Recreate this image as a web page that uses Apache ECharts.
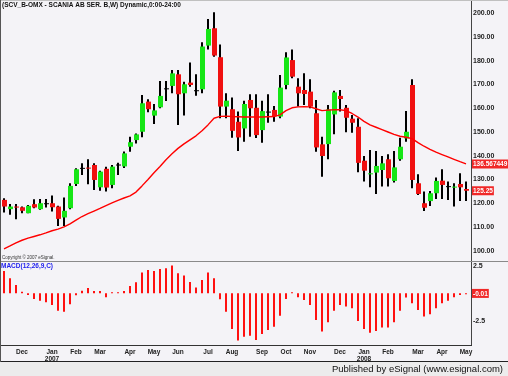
<!DOCTYPE html>
<html><head><meta charset="utf-8">
<script src="https://cdn.jsdelivr.net/npm/echarts@6/dist/echarts.min.js"></script>
<style>html,body{margin:0;padding:0;background:#F4F3F7}#c{width:508px;height:376px}</style>
</head><body><div id="c"></div>
<script>
const weeks = ['2006-11-13','2006-11-20','2006-11-27','2006-12-04','2006-12-11','2006-12-18','2006-12-25',
'2007-01-01','2007-01-08','2007-01-15','2007-01-22','2007-01-29','2007-02-05','2007-02-12','2007-02-19','2007-02-26',
'2007-03-05','2007-03-12','2007-03-19','2007-03-26','2007-04-02','2007-04-09','2007-04-16','2007-04-23','2007-04-30',
'2007-05-07','2007-05-14','2007-05-21','2007-05-28','2007-06-04','2007-06-11','2007-06-18','2007-06-25','2007-07-02',
'2007-07-09','2007-07-16','2007-07-23','2007-07-30','2007-08-06','2007-08-13','2007-08-20','2007-08-27','2007-09-03',
'2007-09-10','2007-09-17','2007-09-24','2007-10-01','2007-10-08','2007-10-15','2007-10-22','2007-10-29','2007-11-05',
'2007-11-12','2007-11-19','2007-11-26','2007-12-03','2007-12-10','2007-12-17','2007-12-24','2007-12-31','2008-01-07',
'2008-01-14','2008-01-21','2008-01-28','2008-02-04','2008-02-11','2008-02-18','2008-02-25','2008-03-03','2008-03-10',
'2008-03-17','2008-03-24','2008-03-31','2008-04-07','2008-04-14','2008-04-21','2008-04-28','2008-05-05'];

const opens  = [121.4,117.5,118.6,118.3,115.8,119.6,117.5,120.0,120.0,118.6,114.0,117.9,128.1,134.9,135.0,136.1,126.7,134.5,127.7,136.3,
135.5,143.8,146.6,150.1,162.8,156.9,160.4,168.4,169.4,174.3,166.3,170.8,167.6,168.0,186.4,193.7,181.5,160.7,159.6,154.3,
151.5,163.5,160.2,150.8,158.6,159.3,156.5,169.8,180.3,169.1,167.7,167.0,157.9,144.8,144.9,157.4,165.2,160.2,155.6,152.2,
137.9,132.4,132.9,134.0,138.5,129.4,138.5,147.3,169.8,128.4,120.0,120.9,124.2,129.5,127.2,126.6,128.1,126.0];
const closes = [118.6,118.6,118.3,116.8,118.9,118.2,120.0,120.0,118.3,113.4,116.8,127.3,134.3,134.9,134.6,129.8,133.3,126.6,135.4,136.3,
141.0,145.7,149.0,162.1,159.6,159.1,165.2,168.4,174.7,165.9,170.1,169.8,167.6,186.0,193.4,182.2,160.7,163.2,150.5,147.7,
161.8,160.0,148.7,158.8,158.6,156.7,168.7,181.4,173.3,166.3,166.0,160.7,143.5,139.9,159.5,166.7,163.9,156.0,153.9,137.0,
133.7,132.6,135.7,136.8,130.5,135.1,143.8,150.1,129.8,123.9,118.1,124.2,129.4,127.7,127.2,127.0,126.7,125.25];
const lows   = [116.1,115.1,113.3,115.8,115.8,117.9,117.2,118.2,116.5,110.4,110.4,117.5,127.3,131.9,128.0,125.6,125.3,124.9,126.3,131.9,
134.8,141.7,145.2,147.8,158.3,153.4,160.0,163.1,166.3,153.0,156.9,169.1,165.3,166.3,184.8,181.7,155.8,155.8,147.6,142.0,
145.9,148.0,147.5,145.5,153.9,154.3,155.8,168.0,172.6,160.7,161.4,160.0,141.7,131.2,138.5,149.0,158.6,149.9,149.7,133.0,
129.1,126.7,123.9,127.0,127.0,128.7,137.9,145.9,126.3,123.5,116.7,118.8,121.8,121.8,121.4,118.6,120.9,120.9];
const highs  = [122.1,119.7,119.7,118.6,119.3,121.7,121.8,121.8,123.2,118.9,122.4,128.4,134.7,136.8,138.5,136.8,133.7,135.4,136.1,137.0,
141.8,148.0,149.4,165.6,163.8,161.8,171.5,171.5,176.1,176.1,171.2,179.3,174.3,187.8,197.6,200.4,186.9,166.3,164.5,158.6,
163.2,165.9,165.9,163.2,165.9,161.0,174.0,183.6,184.8,172.6,174.7,172.2,163.5,148.0,161.4,167.4,167.7,161.4,157.2,155.8,
139.9,142.4,142.0,139.9,140.6,142.0,147.6,158.8,172.2,132.2,124.9,125.2,130.8,134.3,129.1,128.4,132.6,129.1];

const ma = [100.8,102.0,103.3,104.4,105.3,106.0,106.7,107.5,108.4,109.1,110.0,111.3,112.9,114.4,115.6,116.7,117.8,119.0,120.1,121.2,
122.2,123.1,124.7,127.3,130.0,132.8,135.5,138.3,140.8,143.1,145.0,146.7,148.4,150.5,153.0,155.8,156.6,156.7,156.5,156.4,
156.3,156.3,156.3,156.3,156.4,156.5,157.2,159.0,160.2,160.6,160.7,160.6,159.8,159.0,159.2,159.4,159.4,159.0,157.8,156.3,
154.5,153.0,152.0,151.0,150.0,149.0,148.2,147.8,147.2,145.5,144.0,142.7,141.5,140.5,139.5,138.5,137.5,136.567449];

const macd = [2.03,1.36,0.75,0.15,-0.15,-0.52,-0.67,-0.82,-1.06,-1.58,-1.67,-1.0,-0.18,0.24,0.48,0.21,0.21,-0.36,0.1,0.05,
0.21,0.67,1.0,1.9,2.12,2.03,2.21,2.27,2.52,1.82,1.61,1.03,0.52,1.21,1.88,1.36,-0.55,-1.67,-3.24,-4.3,
-3.94,-3.85,-4.24,-3.7,-3.33,-3.03,-2.03,-0.52,0.1,-0.36,-0.61,-1.06,-2.42,-3.48,-2.64,-1.58,-1.06,-1.21,-1.36,-2.52,
-3.24,-3.58,-3.42,-3.12,-3.12,-2.64,-1.58,-0.39,-0.91,-1.52,-2.12,-1.91,-1.36,-0.91,-0.67,-0.36,-0.15,-0.01];

const monthTickIdx  = [3,8,12,16,21,25,29,34,38,43,47,51,56,60,64,69,73,77];
const monthTickText = ['Dec','Jan\n2007','Feb','Mar','Apr','May','Jun','Jul','Aug','Sep','Oct','Nov','Dec','Jan\n2008','Feb','Mar','Apr','May'];

const titleText = '(SCV_B-OMX - SCANIA AB SER. B,W) Dynamic,0:00-24:00';
const macdTitle = 'MACD(12,26,9,C)';

const GREEN = '#16E616', RED = '#F01010', FONT = 'Liberation Sans';
const ohlc = weeks.map((w, i) => [i, opens[i], closes[i], lows[i], highs[i]]);

const chart = echarts.init(document.getElementById('c'), null, {renderer: 'canvas'});
const axisLabelStyle = {fontFamily: FONT, fontSize: 7, fontWeight: 'bold', color: '#222'};

chart.setOption({
  animation: false,
  backgroundColor: '#F4F3F7',
  grid: [
    {left: 1, width: 468, top: 13.3, height: 237.4},
    {left: 1, width: 468, top: 238.3, height: 110}
  ],
  xAxis: [
    {type: 'category', gridIndex: 0, data: weeks, axisLine: {show: false}, axisTick: {show: false}, axisLabel: {show: false}, splitLine: {show: false}},
    {type: 'category', gridIndex: 1, data: weeks, offset: -3.3, axisLine: {show: false}, axisTick: {show: false}, splitLine: {show: false},
     axisLabel: {show: true, interval: (idx) => monthTickIdx.includes(idx), margin: 3, lineHeight: 7.5,
       formatter: (v, idx) => { const k = monthTickIdx.indexOf(idx); return k >= 0 ? monthTickText[k] : ''; },
       fontFamily: FONT, fontSize: 6.5, fontWeight: 'bold', color: '#222'}}
  ],
  yAxis: [
    {type: 'value', gridIndex: 0, position: 'right', min: 100, max: 200, interval: 10, axisLine: {show: false}, axisTick: {show: false}, splitLine: {show: false},
     axisLabel: Object.assign({margin: 4, formatter: v => v.toFixed(2)}, axisLabelStyle)},
    {type: 'value', gridIndex: 1, position: 'right', min: -5, max: 5, interval: 2.5, axisLine: {show: false}, axisTick: {show: false}, splitLine: {show: false},
     axisLabel: Object.assign({margin: 4, formatter: v => (Math.abs(v) === 2.5 ? String(v) : '')}, axisLabelStyle)}
  ],
  series: [
    {type: 'custom', xAxisIndex: 0, yAxisIndex: 0, data: ohlc, encode: {x: 0, y: [1, 2, 3, 4]}, clip: false,
     renderItem: (params, api) => {
       const i = api.value(0), o = api.value(1), c = api.value(2), l = api.value(3), h = api.value(4);
       const pO = api.coord([i, o]), pC = api.coord([i, c]), pL = api.coord([i, l]), pH = api.coord([i, h]);
       const x = Math.round(pO[0]);
       const col = o === c ? '#000' : (c > o ? GREEN : RED);
       const top = Math.min(pO[1], pC[1]);
       const bh = Math.max(1, Math.abs(pO[1] - pC[1]));
       return {type: 'group', children: [
         {type: 'rect', shape: {x: x - 1, y: pH[1], width: 2, height: pL[1] - pH[1]}, style: {fill: '#000'}},
         {type: 'rect', shape: {x: x - 2, y: top, width: 5, height: bh}, style: {fill: col}}
       ]};
     }},
    {type: 'line', xAxisIndex: 0, yAxisIndex: 0, data: ma, symbol: 'none', lineStyle: {color: '#FF0000', width: 1.4}, z: 3},
    {type: 'bar', xAxisIndex: 1, yAxisIndex: 1, data: macd, barWidth: 2, barMinHeight: 1, itemStyle: {color: '#FF1010'}}
  ]
});

const yMa = chart.convertToPixel({yAxisIndex: 0}, ma[ma.length - 1]);
const yCl = chart.convertToPixel({yAxisIndex: 0}, closes[closes.length - 1]);
const yMd = chart.convertToPixel({yAxisIndex: 1}, macd[macd.length - 1]);
function tag(y, txt) {
  return {type: 'text', left: 472, top: y - 4.5, z: 20,
    style: {text: txt, fill: '#fff', backgroundColor: '#F02828', padding: [1, 1, 0, 1], fontFamily: FONT, fontSize: 6.5, fontWeight: 'bold', lineHeight: 8}};
}
chart.setOption({graphic: [
  {type: 'rect', left: 0, top: 362, shape: {width: 508, height: 14}, style: {fill: '#ECECEC'}, z: 10},
  {type: 'line', shape: {x1: 0, y1: 361.5, x2: 508, y2: 361.5}, style: {stroke: '#222', lineWidth: 1}, z: 11},
  {type: 'line', shape: {x1: 471.5, y1: 0, x2: 471.5, y2: 345}, style: {stroke: '#444', lineWidth: 1}, z: 11},
  {type: 'line', shape: {x1: 0, y1: 345.5, x2: 472, y2: 345.5}, style: {stroke: '#333', lineWidth: 1}, z: 11},
  {type: 'line', shape: {x1: 0, y1: 261.5, x2: 508, y2: 261.5}, style: {stroke: '#8A8A8A', lineWidth: 1}, z: 11},
  {type: 'line', shape: {x1: 0, y1: 0.5, x2: 508, y2: 0.5}, style: {stroke: '#C0C0C0', lineWidth: 1}, z: 11},
  {type: 'line', shape: {x1: 0.5, y1: 0, x2: 0.5, y2: 362}, style: {stroke: '#555', lineWidth: 1}, z: 11},
  {type: 'text', left: 2, top: 2, z: 12, style: {text: titleText, fill: '#111', fontFamily: FONT, fontSize: 6.5, fontWeight: 'bold'}},
  {type: 'text', left: 2, top: 255, z: 12, style: {text: 'Copyright \u00a9 2007 eSignal.', fill: '#333', fontFamily: FONT, fontSize: 4.5}},
  {type: 'text', left: 1, top: 263, z: 12, style: {text: macdTitle, fill: '#2222EE', fontFamily: FONT, fontSize: 6.5, fontWeight: 'bold'}},
  {type: 'text', right: 5, top: 364, z: 12, style: {text: 'Published by eSignal (www.esignal.com)', fill: '#111', fontFamily: FONT, fontSize: 9.5}},
  tag(yMa, String(ma[ma.length - 1])),
  tag(yCl, closes[closes.length - 1].toFixed(2)),
  tag(yMd, macd[macd.length - 1].toFixed(2))
]});
</script></body></html>
